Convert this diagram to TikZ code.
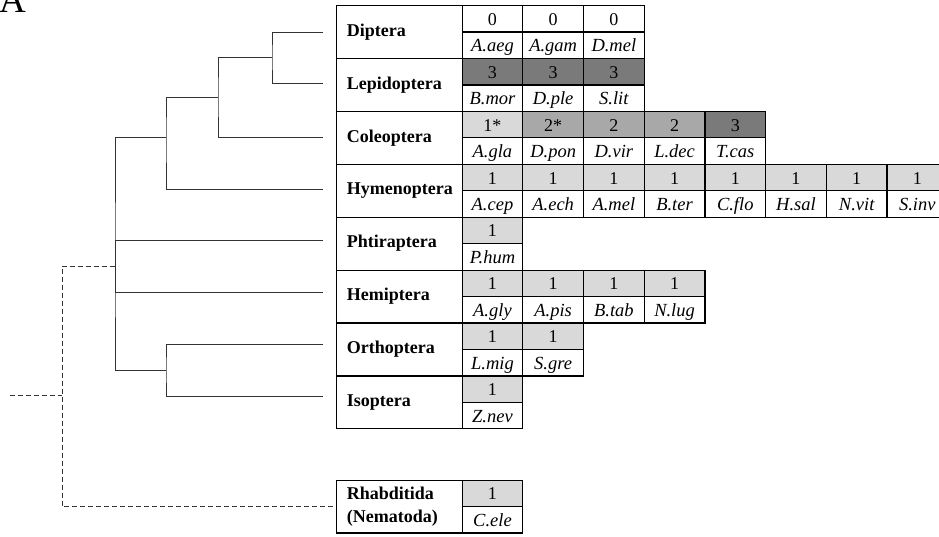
\documentclass[tikz,border=0pt]{standalone}
\usepackage{fontspec}
\setmainfont{Liberation Serif}

\definecolor{shadethree}{gray}{0.48}
\definecolor{shadetwo}{gray}{0.66}
\definecolor{shadeone}{gray}{0.85}

\tikzset{
	order/.style={draw,line width=1.2pt,anchor=north west,minimum width=125.5pt,minimum height=52.9pt,text width=105pt,inner xsep=10pt,inner ysep=0pt,align=left,font=\fontsize{18}{23}\selectfont\bfseries},
	count/.style={draw,line width=1.2pt,anchor=north west,minimum width=60.7pt,minimum height=26.45pt,inner sep=0pt,text height=13pt,text depth=0pt,font=\fontsize{18}{20}\selectfont},
	species/.style={count,font=\fontsize{18.5}{20}\selectfont\itshape},
	branch/.style={line width=1pt,black!80},
	outgroup/.style={branch,dash pattern=on 5pt off 3pt},
}

% #1 short name, #2 order, #3 top of the row, #4 count/species/shade per cell
\newcommand{\orderrow}[4]{
	\node[order] (#1) at (336,#3) {#2};
	\foreach \n/\sp/\shade [count=\i] in {#4} {
		\node[count,fill=\shade] (#1-n\i) at (400.8+60.7*\i,#3) {\n};
		\node[species] (#1-s\i) at (400.8+60.7*\i,#3+26.45) {\sp};
	}
}

\begin{document}
\begin{tikzpicture}[x=1pt,y=-1pt]
	\useasboundingbox (0,0) rectangle (939,536);
	\node[anchor=base west,inner sep=0pt,font=\fontsize{37}{40}\selectfont] (panel) at (-1,12.5) {A};

	\orderrow{dip}{Diptera}{5}{0/A.aeg/white,0/A.gam/white,0/D.mel/white}
	\orderrow{lep}{Lepidoptera}{57.9}{3/B.mor/shadethree,3/D.ple/shadethree,3/S.lit/shadethree}
	\orderrow{col}{Coleoptera}{110.8}{1*/A.gla/shadeone,2*/D.pon/shadetwo,2/D.vir/shadetwo,2/L.dec/shadetwo,3/T.cas/shadethree}
	\orderrow{hym}{Hymenoptera}{163.7}{1/A.cep/shadeone,1/A.ech/shadeone,1/A.mel/shadeone,1/B.ter/shadeone,1/C.flo/shadeone,1/H.sal/shadeone,1/N.vit/shadeone,1/S.inv/shadeone}
	\orderrow{phy}{Phtiraptera}{216.6}{1/P.hum/shadeone}
	\orderrow{hem}{Hemiptera}{269.5}{1/A.gly/shadeone,1/A.pis/shadeone,1/B.tab/shadeone,1/N.lug/shadeone}
	\orderrow{ort}{Orthoptera}{322.4}{1/L.mig/shadeone,1/S.gre/shadeone}
	\orderrow{iso}{Isoptera}{375.3}{1/Z.nev/shadeone}
	\orderrow{rha}{Rhabditida\\(Nematoda)}{479.5}{1/C.ele/shadeone}

	% tree
	\coordinate (dip-tip) at (323,32);
	\coordinate (lep-tip) at (323,83);
	\coordinate (col-tip) at (323,137);
	\coordinate (hym-tip) at (323,189);
	\coordinate (phy-tip) at (323,240);
	\coordinate (hem-tip) at (323,292);
	\coordinate (ort-tip) at (323,344);
	\coordinate (iso-tip) at (323,396);
	\coordinate (n1) at (272,57);
	\coordinate (n2) at (218,97);
	\coordinate (n3) at (166,137);
	\coordinate (n4) at (115,266);
	\coordinate (n5) at (166,370);
	\coordinate (n0) at (62,395);
	\coordinate (root) at (10,395);
	\draw[branch] (dip-tip) -| (n1) |- (lep-tip);
	\draw[branch] (n1) -| (n2) |- (col-tip);
	\draw[branch] (n2) -| (n3) |- (hym-tip);
	\draw[branch] (n3) -| (n4) |- (n5);
	\draw[branch] (n4) |- (phy-tip);
	\draw[branch] (n4) |- (hem-tip);
	\draw[branch] (ort-tip) -| (n5) |- (iso-tip);
	\draw[outgroup] (root) -- (n0);
	\draw[outgroup] (n4) -| (n0) |- (rha);
\end{tikzpicture}
\end{document}
